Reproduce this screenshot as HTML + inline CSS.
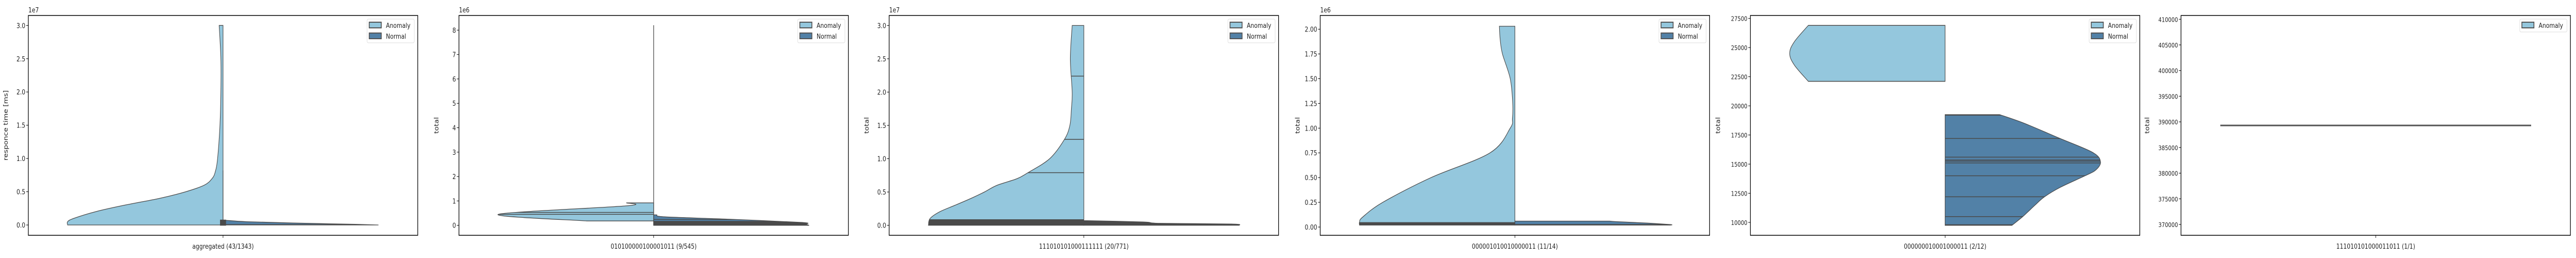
<!DOCTYPE html>
<html><head><meta charset="utf-8"><style>
html,body{margin:0;padding:0;background:#fff;overflow:hidden;width:100vw;height:100vh}
svg{display:block;width:100vw;height:100vh}
text{font-family:"DejaVu Sans","Liberation Sans",sans-serif;fill:#222}
</style></head><body>
<svg id="chart" viewBox="0 0 6000 500" preserveAspectRatio="none" xmlns="http://www.w3.org/2000/svg"></svg>
<script>
// ---- data ----
const categories = ["aggregated (43/1343)","010100000100001011 (9/545)","111010101000111111 (20/771)","000001010010000011 (11/14)","000000010001000011 (2/12)","111010101000011011 (1/1)"];
const yLabels = ["responce time [ms]","total","total","total","total","total"];
const offsetTexts = ["1e7","1e6","1e7","1e6","",""];
const tickValues = [
 [0,0.5e7,1e7,1.5e7,2e7,2.5e7,3e7],
 [0,1e6,2e6,3e6,4e6,5e6,6e6,7e6,8e6],
 [0,0.5e7,1e7,1.5e7,2e7,2.5e7,3e7],
 [0,0.25e6,0.5e6,0.75e6,1e6,1.25e6,1.5e6,1.75e6,2e6],
 [10000,12500,15000,17500,20000,22500,25000,27500],
 [370000,375000,380000,385000,390000,395000,400000,405000,410000]];
const tickLabels = [
 ["0.0","0.5","1.0","1.5","2.0","2.5","3.0"],
 ["0","1","2","3","4","5","6","7","8"],
 ["0.0","0.5","1.0","1.5","2.0","2.5","3.0"],
 ["0.00","0.25","0.50","0.75","1.00","1.25","1.50","1.75","2.00"],
 ["10000","12500","15000","17500","20000","22500","25000","27500"],
 ["370000","375000","380000","385000","390000","395000","400000","405000","410000"]];
const yLimits = [[-0.155e7,3.15e7],[-0.408e6,8.6e6],[-0.15e7,3.15e7],[-0.0835e6,2.139e6],[8894,27752],[367888,410734]];
const anomalyY = [
 [0,0.05e7,0.1e7,0.2e7,0.3e7,0.4e7,0.5e7,0.6e7,0.7e7,0.8e7,1.0e7,1.5e7,2.0e7,2.5e7,3.0e7],
 [0.18e6,0.45e6,0.8e6,0.92e6],
 [0,0.1e7,0.2e7,0.3e7,0.4e7,0.5e7,0.6e7,0.7e7,0.79e7,1.0e7,1.29e7,1.5e7,1.75e7,2.0e7,2.5e7,3.0e7],
 [0.02e6,0.05e6,0.1e6,0.25e6,0.5e6,0.75e6,1.0e6,1.1e6,1.25e6,1.5e6,1.75e6,1.9e6,2.03e6],
 [22100,23500,24500,25500,26900],
 []];
const anomalyW = [
 [1.0,1.0,0.96,0.82,0.63,0.41,0.24,0.12,0.07,0.05,0.035,0.02,0.014,0.014,0.025],
 [0.43,1.0,0.175,0.175],
 [1.0,0.99,0.93,0.83,0.73,0.64,0.56,0.43,0.36,0.22,0.125,0.09,0.08,0.075,0.087,0.075],
 [1.0,1.0,0.98,0.85,0.54,0.16,0.03,0.016,0.014,0.03,0.08,0.095,0.1],
 [0.88,0.97,1.0,0.97,0.88],
 []];
const normalY = [
 [0,0.01e7,0.03e7,0.05e7,0.07e7],
 [0,0.05e6,0.12e6,0.25e6,0.35e6,0.43e6],
 [0,0.02e7,0.03e7,0.05e7,0.07e7],
 [0.02e6,0.025e6,0.04e6,0.055e6,0.06e6],
 [9750,10500,11500,12200,13000,14000,14500,15200,16000,17200,18500,19250],
 []];
const normalW = [
 [1.0,0.85,0.45,0.15,0.02],
 [1.0,0.98,0.95,0.49,0.07,0.02],
 [1.0,0.95,0.49,0.38,0.02],
 [1.0,1.0,0.85,0.65,0.61],
 [0.43,0.50,0.58,0.64,0.74,0.90,0.97,1.0,0.95,0.74,0.51,0.35],
 []];
const anomalyLines = [[],[0.45e6,0.53e6],[0.79e7,1.29e7,2.24e7],[0.045e6],[22100,26900],[]];
const normalLines = [[],[0.24e6],[],[],[9800,10500,12200,14000,15100,15250,15350,15600,17200,19200],[]];
const anomalyDark = [[],[],[0,0.09e7],[0.02e6,0.045e6],[],[]];
const normalDark = [[0,0.012e7],[0,0.18e6],[0,0.07e7],[0.02e6,0.03e6],[],[]];
const spikeTop = [0.82e7,8.2e6,0,0,0,0];
const singleValue = [null,null,null,null,null,389300];
const hasNormal = [true,true,true,true,true,false];

// ---- layout ----
const panelLeft = [66,1069,2071,3075,4077,5080];
const yTitleOffset = [48,48,48,48,71,74];
const tickFont = [13,13,13,13,12,12];
const panelWidth = 907;
const plotTop = 30, plotBottom = 456, H = 362;
const C_AN = "#94c7dd", C_NO = "#5281a7", EDGE = "#4a4a4a";
const NS = "http://www.w3.org/2000/svg";
const svg = document.getElementById('chart');
function mk(tag, attrs, parent){ const e=document.createElementNS(NS,tag); for(const k in attrs) e.setAttribute(k,attrs[k]); (parent||svg).appendChild(e); return e; }
function smooth(pts){
  let d = 'M'+pts[0][0].toFixed(1)+','+pts[0][1].toFixed(1);
  for(let k=0;k<pts.length-1;k++){
    const p0=pts[Math.max(0,k-1)], p1=pts[k], p2=pts[k+1], p3=pts[Math.min(pts.length-1,k+2)];
    const c1=[p1[0]+(p2[0]-p0[0])/6, p1[1]+(p2[1]-p0[1])/6];
    const c2=[p2[0]-(p3[0]-p1[0])/6, p2[1]-(p3[1]-p1[1])/6];
    d += ' C'+c1[0].toFixed(1)+','+c1[1].toFixed(1)+' '+c2[0].toFixed(1)+','+c2[1].toFixed(1)+' '+p2[0].toFixed(1)+','+p2[1].toFixed(1);
  }
  return d;
}

categories.forEach((cat,i)=>{
  const L = panelLeft[i], R = L+panelWidth, cx = (L+R)/2;
  const y0 = yLimits[i][0], y1 = yLimits[i][1];
  const ys = v => plotBottom - (v-y0)/(y1-y0)*(plotBottom-plotTop);
  const g = mk('g',{});
  
  

  function half(Y, W, side, fill, name, lines, dark){
    if(!Y.length) return;
    const pts = Y.map((v,k)=>[cx + side*W[k]*H, ys(v)]);
    const d = 'M'+cx+','+ys(Y[0]).toFixed(1)+' L'+smooth(pts).slice(1)+' L'+cx+','+ys(Y[Y.length-1]).toFixed(1)+' Z';
    const cid = 'clip'+i+name;
    const cp = mk('clipPath',{id:cid},g);
    mk('path',{d:d},cp);
    const poly = mk('path',{d:d,fill:fill,stroke:'none'},g);
    
    
    if(dark.length){
      const r = mk('rect',{x:side<0?cx-H-2:cx, y:ys(dark[1]), width:H+2, height:Math.max(1,ys(dark[0])-ys(dark[1])), fill:EDGE,'clip-path':'url(#'+cid+')'},g);
      
      
    }
    lines.forEach(v=>{
      const ln = mk('line',{x1:cx-H-2,x2:cx+H+2,y1:ys(v),y2:ys(v),stroke:EDGE,'stroke-width':1.5,'clip-path':'url(#'+cid+')'},g);
      
      
    });
    const ol = mk('path',{d:d,fill:'none',stroke:EDGE,'stroke-width':1.3},g);
    
    
  }
  half(anomalyY[i], anomalyW[i], -1, C_AN, 'anomaly', anomalyLines[i], anomalyDark[i]);
  half(normalY[i], normalW[i], 1, C_NO, 'normal', normalLines[i], normalDark[i]);
  if(spikeTop[i]){
    const s = mk('line',{x1:cx,x2:cx,y1:ys(0),y2:ys(spikeTop[i]),stroke:EDGE,'stroke-width':1.5},g);
    
    
  }
  if(i===0){
    const b = mk('rect',{x:cx-7,y:ys(0.08e7),width:14,height:ys(-0.01e7)-ys(0.08e7),fill:EDGE},g);
    
    
  }
  if(singleValue[i]!==null){
    const s = mk('line',{x1:cx-H,x2:cx+H,y1:ys(singleValue[i]),y2:ys(singleValue[i]),stroke:'#555','stroke-width':3},g);
    
    
  }
  const fr = mk('rect',{x:L,y:plotTop,width:panelWidth,height:plotBottom-plotTop,fill:'none',stroke:'#000','stroke-width':1.5},g);
  
  
  tickValues[i].forEach((v,k)=>{
    const y = ys(v);
    mk('line',{x1:L-5,x2:L,y1:y,y2:y,stroke:'#000','stroke-width':1},g);
    const t = mk('text',{x:L-7,y:y+5,'text-anchor':'end','font-size':tickFont[i]},g);
    t.textContent = tickLabels[i][k];
    
    
  });
  if(offsetTexts[i]){
    const o = mk('text',{x:L,y:24,'font-size':13},g);
    o.textContent = offsetTexts[i];
    
    
  }
  mk('line',{x1:cx,x2:cx,y1:plotBottom,y2:plotBottom+5,stroke:'#000'},g);
  const xl = mk('text',{x:cx,y:482,'text-anchor':'middle','font-size':13},g);
  xl.textContent = cat;
  
  
  const yl = mk('text',{x:0,y:0,'text-anchor':'middle','font-size':14,transform:'translate('+(L-yTitleOffset[i])+','+(plotTop+plotBottom)/2+') rotate(-90)'},g);
  yl.textContent = yLabels[i];
  
  
  const entries = hasNormal[i] ? [['Anomaly',C_AN],['Normal',C_NO]] : [['Anomaly',C_AN]];
  const lg = mk('g',{},g);
  
  
  mk('rect',{x:R-118,y:37,width:110,height:entries.length*21+4,rx:3,fill:'#fff',stroke:'#ddd'},lg);
  entries.forEach((e,k)=>{
    const pr = mk('rect',{x:R-113,y:43+k*21,width:28,height:11,fill:e[1],stroke:'#555','stroke-width':2},lg);
    
    
    const t = mk('text',{x:R-74,y:54+k*21,'font-size':13},lg);
    t.textContent = e[0];
    
    
  });
});
</script>
</body></html>
